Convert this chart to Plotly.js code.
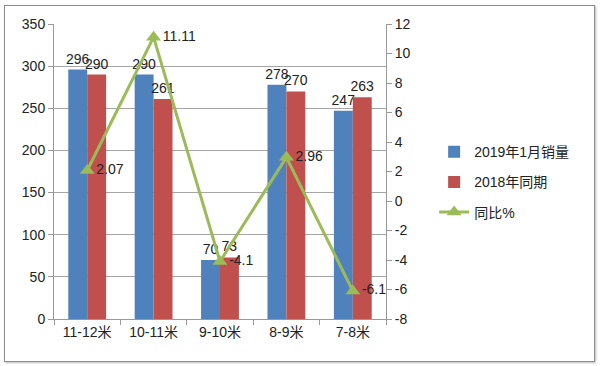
<!DOCTYPE html>
<html><head><meta charset="utf-8">
<script src="https://cdn.plot.ly/plotly-3.0.1.min.js"></script>
<style>
body{margin:0;background:#fff;}
#wrap{position:relative;width:600px;height:366px;}
#chart{width:600px;height:366px;}
#frame{position:absolute;left:4px;top:5px;width:589px;height:355px;border:1.5px solid #8c8c8c;pointer-events:none;box-shadow:1px 1px 2px #bbb;}
</style></head>
<body><div id="wrap"><div id="chart"></div><div id="frame"></div></div>
<script>
var categories = ["11-12米","10-11米","9-10米","8-9米","7-8米"];
var sales2019 = [296, 290, 70, 278, 247];
var sales2018 = [290, 261, 73, 270, 263];
var yoy = [2.07, 11.11, -4.1, 2.96, -6.1];
var yoyLabels = ["2.07","11.11","-4.1","2.96","-6.1"];
var leftTicks = [0,50,100,150,200,250,300,350];
var rightTicks = [-8,-6,-4,-2,0,2,4,6,8,10,12];

var fontFam = "Liberation Sans, Noto Sans CJK SC, sans-serif";
var traces = [
 {type:'bar', name:'2019年1月销量', legendgroup:'a', x:categories, y:sales2019, marker:{color:'#4F81BD'},
  text:sales2019.map(String), textposition:'outside', cliponaxis:false, constraintext:'none', textangle:0,
  textfont:{size:14,color:'#222',family:fontFam}},
 {type:'bar', name:'2018年同期', legendgroup:'b', x:categories, y:sales2018, marker:{color:'#C0504D'},
  text:sales2018.map(String), textposition:'outside', cliponaxis:false, constraintext:'none', textangle:0,
  textfont:{size:14,color:'#222',family:fontFam}},
 {type:'scatter', mode:'lines+markers+text', name:'同比%', legendgroup:'c', x:categories, y:yoy, yaxis:'y2',
  line:{color:'#9BBB59',width:3}, marker:{symbol:'triangle-up',size:13,color:'#9BBB59'},
  text:yoyLabels, textposition:'middle right', cliponaxis:false,
  textfont:{size:14,color:'#222',family:fontFam}}
];
var layout = {
 width:600, height:366,
 margin:{l:54,r:214,t:24,b:47},
 paper_bgcolor:'#fff', plot_bgcolor:'#fff',
 font:{family:fontFam,size:13,color:'#222'},
 barmode:'group', bargap:0.43, bargroupgap:0,
 showlegend:true,
 legend:{x:1.145,y:0.62,xanchor:'left',yanchor:'top',font:{size:14,color:'#222'},tracegroupgap:9,bgcolor:'rgba(0,0,0,0)'},
 xaxis:{type:'category',tickson:'boundaries',ticks:'outside',ticklen:5,tickcolor:'#999',
   showline:true,linecolor:'#999',linewidth:1,tickfont:{size:14},showgrid:false},
 yaxis:{range:[0,350],tickvals:leftTicks,ticktext:leftTicks.map(String),ticks:'outside',ticklen:5,tickcolor:'#999',
   showline:true,linecolor:'#999',gridcolor:'#a6a6a6',gridwidth:1,zeroline:false,tickfont:{size:14}},
 yaxis2:{range:[-8,12],tickvals:rightTicks,ticktext:rightTicks.map(String),overlaying:'y',side:'right',ticks:'outside',ticklen:5,
   tickcolor:'#999',showline:true,linecolor:'#999',showgrid:false,zeroline:false,tickfont:{size:14}}
};
Plotly.newPlot('chart',traces,layout,{displayModeBar:false,staticPlot:true});
</script></body></html>
